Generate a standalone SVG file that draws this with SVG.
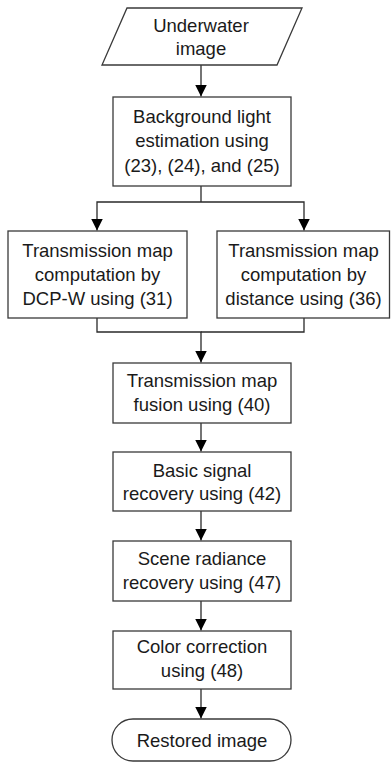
<svg xmlns="http://www.w3.org/2000/svg" width="391" height="762" viewBox="0 0 391 762">
<style>
.n{fill:#fff;stroke:#3a3a3a;stroke-width:1.3}
.t{font-family:"Liberation Sans",Arial,sans-serif;font-size:18.5px;fill:#1a1a1a;text-anchor:middle}
.c{fill:none;stroke:#2a2a2a;stroke-width:1.3}
</style>
<defs>
<marker id="ah" markerUnits="userSpaceOnUse" markerWidth="12" markerHeight="12" refX="12" refY="6" orient="auto">
<path d="M0,0 L12,6 L0,12 z" fill="#000"/>
</marker>
</defs>
<rect width="391" height="762" fill="#fff"/>
<g id="connectors">
<path class="c" d="M201,65 V96.5" marker-end="url(#ah)"/>
<path class="c" d="M201,186 V202"/>
<path class="c" d="M201,202 H97 V230.5" marker-end="url(#ah)"/>
<path class="c" d="M201,202 H304 V230.5" marker-end="url(#ah)"/>
<path class="c" d="M97,318 V332 H201 V362.5" marker-end="url(#ah)"/>
<path class="c" d="M304,318 V332 H201"/>
<path class="c" d="M201,423 V451.5" marker-end="url(#ah)"/>
<path class="c" d="M201,511 V540.5" marker-end="url(#ah)"/>
<path class="c" d="M201,601 V630.5" marker-end="url(#ah)"/>
<path class="c" d="M201,689 V718.5" marker-end="url(#ah)"/>
</g>
<g id="n1">
<polygon class="n" points="127,8 302,8 277,65 102,65"/>
<text class="t" x="201" y="32">Underwater</text>
<text class="t" x="201" y="55">image</text>
</g>
<g id="n2">
<rect class="n" x="113" y="97" width="178" height="89"/>
<text class="t" x="202" y="123">Background light</text>
<text class="t" x="202" y="147">estimation using</text>
<text class="t" x="202" y="172">(23), (24), and (25)</text>
</g>
<g id="n3">
<rect class="n" x="8" y="231" width="179" height="87"/>
<text class="t" x="97.5" y="257">Transmission map</text>
<text class="t" x="97.5" y="281">computation by</text>
<text class="t" x="97.5" y="305">DCP-W using (31)</text>
</g>
<g id="n4">
<rect class="n" x="217" y="231" width="172.5" height="87"/>
<text class="t" x="303.5" y="257">Transmission map</text>
<text class="t" x="303.5" y="281">computation by</text>
<text class="t" x="303.5" y="305">distance using (36)</text>
</g>
<g id="n5">
<rect class="n" x="113" y="363" width="178" height="60"/>
<text class="t" x="202" y="387">Transmission map</text>
<text class="t" x="202" y="410.5">fusion using (40)</text>
</g>
<g id="n6">
<rect class="n" x="113" y="452" width="178" height="59"/>
<text class="t" x="202" y="476.5">Basic signal</text>
<text class="t" x="202" y="500">recovery using (42)</text>
</g>
<g id="n7">
<rect class="n" x="113" y="541" width="178" height="60"/>
<text class="t" x="202" y="565">Scene radiance</text>
<text class="t" x="202" y="588.5">recovery using (47)</text>
</g>
<g id="n8">
<rect class="n" x="113" y="631" width="178" height="58"/>
<text class="t" x="202" y="653">Color correction</text>
<text class="t" x="202" y="677">using (48)</text>
</g>
<g id="n9">
<rect class="n" x="112" y="719" width="179" height="42" rx="21" ry="21"/>
<text class="t" x="202" y="747">Restored image</text>
</g>
</svg>
